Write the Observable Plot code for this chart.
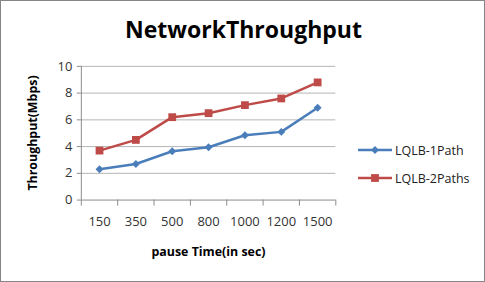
<!DOCTYPE html>
<html>
<head>
<meta charset="utf-8">
<script src="https://cdn.jsdelivr.net/npm/d3@7"></script>
<script src="https://cdn.jsdelivr.net/npm/@observablehq/plot@0.6"></script>
<style>
  html, body { margin: 0; padding: 0; background: #fff; }
  #wrap { position: relative; width: 485px; height: 282px; box-sizing: border-box; border: 1px solid #868686; overflow: hidden; font-family: "Open Sans", sans-serif; }
  #chart { position: absolute; left: -1px; top: -1px; }
  .abs { position: absolute; white-space: nowrap; color: #000; }
  #title { left: 0; width: 485px; top: 12px; text-align: center; font-weight: bold; font-size: 23px; }
  #xtitle { left: 80px; width: 255px; top: 242px; text-align: center; font-weight: bold; font-size: 12.4px; }
  #ytitle { left: 31px; top: 132px; transform: translate(-50%, -50%) rotate(-90deg); font-weight: bold; font-size: 12.4px; }
  #legend { left: 356px; top: 135px; font-size: 12.5px; color: #222; }
  .li { display: flex; align-items: center; height: 28px; }
  .li svg { margin-right: 2px; }
</style>
</head>
<body>
<div id="wrap">
  <div id="chart"></div>
  <div id="title" class="abs">NetworkThroughput</div>
  <div id="xtitle" class="abs">pause Time(in sec)</div>
  <div id="ytitle" class="abs">Throughput(Mbps)</div>
  <div id="legend" class="abs"></div>
</div>
<script>
const categories = ["150", "350", "500", "800", "1000", "1200", "1500"];
const seriesNames = ["LQLB-1Path", "LQLB-2Paths"];
const lqlb1Path = [2.3, 2.7, 3.65, 3.95, 4.85, 5.1, 6.9];
const lqlb2Paths = [3.7, 4.5, 6.2, 6.5, 7.1, 7.6, 8.8];
const yTicks = [0, 2, 4, 6, 8, 10];

const colors = ["#4A7EBB", "#BE4B48"];
const symbols = ["diamond2", "square"];
const radii = [3.6, 4.4];

const rows1 = categories.map((c, i) => ({i, v: lqlb1Path[i]}));
const rows2 = categories.map((c, i) => ({i, v: lqlb2Paths[i]}));

const chart = Plot.plot({
  width: 485,
  height: 282,
  marginLeft: 81,
  marginRight: 149,
  marginTop: 66,
  marginBottom: 82,
  style: {fontFamily: "Open Sans, sans-serif", background: "transparent"},
  x: {domain: [-0.5, categories.length - 0.5], axis: null},
  y: {domain: [0, 10], axis: null},
  marks: [
    Plot.gridY(yTicks.filter(d => d > 0), {stroke: "#b5b5b5", strokeOpacity: 1, x1: -0.5, x2: categories.length - 0.5}),
    Plot.axisY(yTicks, {tickSize: 4, tickPadding: 5, stroke: "#8c8c8c", fontSize: 13, fill: "#333", label: null}),
    Plot.axisX(d3.range(-0.5, categories.length, 1), {tickSize: 6, tickFormat: () => "", stroke: "#8c8c8c", label: null}),
    Plot.axisX(d3.range(categories.length), {tickSize: 0, tickPadding: 17, tickFormat: i => categories[i], fontSize: 13, fill: "#333", label: null}),
    Plot.ruleX([-0.5], {stroke: "#8c8c8c"}),
    Plot.ruleY([0], {stroke: "#8c8c8c"}),
    Plot.line(rows1, {x: "i", y: "v", stroke: colors[0], strokeWidth: 2.5}),
    Plot.dot(rows1, {x: "i", y: "v", fill: colors[0], symbol: symbols[0], r: radii[0], stroke: "none"}),
    Plot.line(rows2, {x: "i", y: "v", stroke: colors[1], strokeWidth: 2.5}),
    Plot.dot(rows2, {x: "i", y: "v", fill: colors[1], symbol: symbols[1], r: radii[1], stroke: "none"})
  ]
});
document.getElementById("chart").appendChild(chart);

// legend
const legend = d3.select("#legend");
seriesNames.forEach((name, k) => {
  const item = legend.append("div").attr("class", "li");
  const svg = item.append("svg").attr("width", 36).attr("height", 14);
  svg.append("line").attr("x1", 1).attr("x2", 35).attr("y1", 7).attr("y2", 7)
    .attr("stroke", colors[k]).attr("stroke-width", 2.5);
  const sym = k === 0 ? d3.symbolDiamond2 : d3.symbolSquare;
  svg.append("path").attr("transform", "translate(18,7)")
    .attr("d", d3.symbol(sym, Math.PI * radii[k] * radii[k])())
    .attr("fill", colors[k]);
  item.append("span").text(name);
});
</script>
</body>
</html>
